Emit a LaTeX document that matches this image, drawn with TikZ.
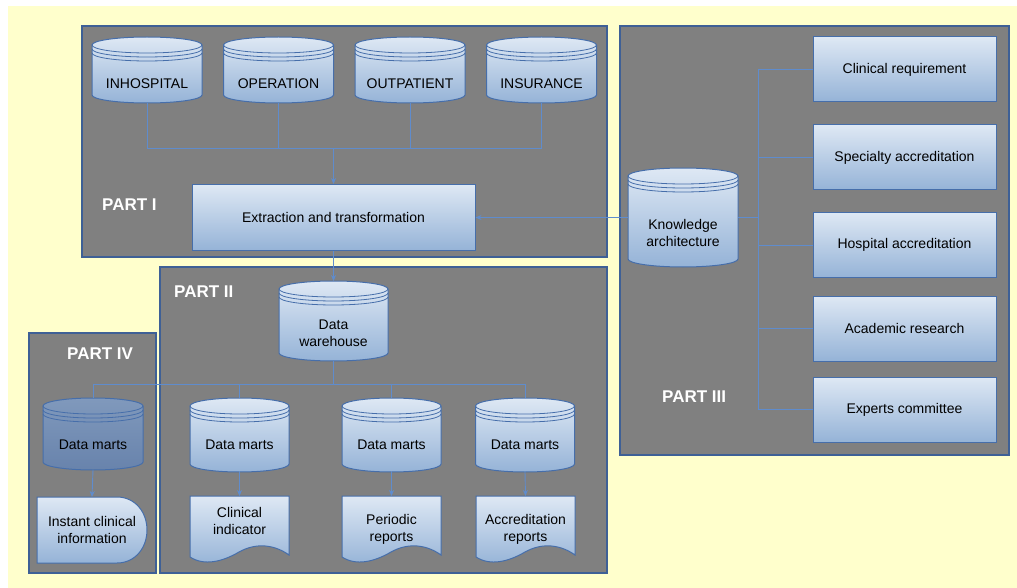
\documentclass[tikz,border=0pt]{standalone}
\usepackage{fontspec}
\setmainfont{Liberation Sans}
\usetikzlibrary{arrows.meta}

\definecolor{bgyellow}{RGB}{255,255,204}
\definecolor{panelgray}{RGB}{128,128,128}
\definecolor{panelblue}{RGB}{62,96,150}
\definecolor{nodeblue}{RGB}{70,110,170}
\definecolor{linkblue}{RGB}{95,140,205}
\definecolor{shadetop}{RGB}{222,232,244}
\definecolor{shadebot}{RGB}{149,179,215}
\definecolor{darktop}{RGB}{128,153,188}
\definecolor{darkbot}{RGB}{104,131,172}

\tikzset{
  panel/.style={fill=panelgray, draw=panelblue, line width=1.5pt},
  partlabel/.style={text=white, font=\fontsize{17}{20}\selectfont\bfseries, anchor=west, inner sep=0pt},
  lightshade/.style={top color=shadetop, bottom color=shadebot, draw=nodeblue, line width=1pt},
  darkshade/.style={top color=darktop, bottom color=darkbot, draw=nodeblue, line width=1pt},
  ring/.style={draw=nodeblue, line width=0.8pt},
  nodetext/.style={align=center, inner sep=0pt, font=\fontsize{14}{17}\selectfont},
  boxnode/.style={rectangle, lightshade, nodetext, minimum width=183pt, minimum height=65pt},
  anchorbox/.style={rectangle, inner sep=0pt, outer sep=0pt},
  conn/.style={draw=linkblue, line width=0.9pt},
  arr/.style={conn, -{Stealth[length=6pt,width=5pt]}}
}

% database cylinder: style, name, center x, top y, width, height, text y, text
\newcommand{\dbcyl}[8]{%
  \node[anchorbox, minimum width=#5pt, minimum height=#6pt] (#2) at (#3,{#4+#6/2}) {};
  \path[#1] ({#3-#5/2},{#4+8}) -- ({#3-#5/2},{#4+#6-8})
    arc[start angle=180, end angle=360, x radius={#5*0.5pt}, y radius=8pt]
    -- ({#3+#5/2},{#4+8})
    arc[start angle=0, end angle=180, x radius={#5*0.5pt}, y radius=8pt] -- cycle;
  \foreach \d in {0,4,8}
    \draw[ring] ({#3-#5/2},{#4+8+\d}) arc[start angle=180, end angle=360, x radius={#5*0.5pt}, y radius=8pt];
  \node[nodetext] (#2-t) at (#3,#7) {#8};
}

% report document: name, left x, text y, text
\newcommand{\repdoc}[4]{%
  \path[lightshade] (#2,496) -- ({#2+99},496) -- ({#2+99},555)
    .. controls ({#2+85},545) and ({#2+67},542) .. ({#2+49},552)
    .. controls ({#2+32},562) and ({#2+14},566) .. (#2,557) -- cycle;
  \node[anchorbox, minimum width=99pt, minimum height=60pt] (#1) at ({#2+49.5},526) {};
  \node[nodetext] (#1-t) at ({#2+49.5},#3) {#4};
}

\begin{document}
\begin{tikzpicture}[x=1pt,y=-1pt]
\useasboundingbox (0,0) rectangle (1017,588);
\fill[white] (0,0) rectangle (1017,588);
\fill[bgyellow] (8,6) rectangle (1017,588);

% panels
\draw[panel] (82,26) rectangle (607,257);
\draw[panel] (620,26) rectangle (1009,455);
\draw[panel] (160,267) rectangle (607,573);
\draw[panel] (29,333) rectangle (156,573);

\node[partlabel] (lab1) at (102,205) {PART I};
\node[partlabel] (lab2) at (174,292) {PART II};
\node[partlabel] (lab3) at (662,397) {PART III};
\node[partlabel] (lab4) at (67,354) {PART IV};

% PART I
\dbcyl{lightshade}{inhosp}{147}{37}{110}{66}{84}{INHOSPITAL}
\dbcyl{lightshade}{oper}{278.5}{37}{110}{66}{84}{OPERATION}
\dbcyl{lightshade}{outpat}{410}{37}{110}{66}{84}{OUTPATIENT}
\dbcyl{lightshade}{insur}{541.5}{37}{110}{66}{84}{INSURANCE}
\node[boxnode, minimum width=283pt, minimum height=66pt] (extract) at (333.5,217.5) {Extraction and transformation};

% PART III
\dbcyl{lightshade}{know}{683}{168}{110}{99}{233}{Knowledge\\architecture}
\node[boxnode] (req) at (904.5,69.5) {Clinical requirement};
\node[boxnode] (spec) at (904.5,157.5) {Specialty accreditation};
\node[boxnode] (hosp) at (904.5,245) {Hospital accreditation};
\node[boxnode] (acad) at (904.5,328.5) {Academic research};
\node[boxnode] (expt) at (904.5,409.5) {Experts committee};

% PART II and IV
\dbcyl{lightshade}{whouse}{333.5}{281}{109}{80}{333.5}{Data\\warehouse}
\dbcyl{darkshade}{dm4}{93}{398}{100}{72}{445}{Data marts}
\dbcyl{lightshade}{dm1}{239.5}{398}{99}{74}{445}{Data marts}
\dbcyl{lightshade}{dm2}{391.5}{398}{99}{74}{445}{Data marts}
\dbcyl{lightshade}{dm3}{525}{398}{99}{74}{445}{Data marts}

\path[lightshade] (37,497) -- (117,497) .. controls (135,497) and (147,512) .. (147,530)
  .. controls (147,548) and (135,563) .. (117,563) -- (37,563) -- cycle;
\node[anchorbox, nodetext, minimum width=110pt, minimum height=66pt] (instant) at (92,530) {Instant clinical\\information};
\repdoc{clind}{190}{520.5}{Clinical\\indicator}
\repdoc{period}{342}{529}{Periodic\\reports}
\repdoc{accrep}{476}{529}{Accreditation\\reports}

% connectors
\coordinate (tbus) at (333.5,148);
\foreach \n in {inhosp,oper,outpat,insur}
  \draw[conn] (\n.south) |- (tbus);
\draw[arr] (tbus) -- (extract.north);
\draw[arr] (extract.south) -- (whouse.north);
\draw[arr] (know.west) -- (extract.east);

\coordinate (kbus) at (758,217.5);
\draw[conn] (know.east) -- (kbus);
\foreach \n in {req,spec,hosp,acad,expt}
  \draw[conn] (kbus) |- (\n.west);

\coordinate (mbus) at (333.5,384);
\draw[conn] (whouse.south) -- (mbus);
\foreach \n in {dm4,dm1,dm2,dm3}
  \draw[conn] (\n.north) |- (mbus);
\draw[arr] (dm4.south) -- (instant.north);
\draw[arr] (dm1.south) -- (clind.north);
\draw[arr] (dm2.south) -- (period.north);
\draw[arr] (dm3.south) -- (accrep.north);

\end{tikzpicture}
\end{document}
